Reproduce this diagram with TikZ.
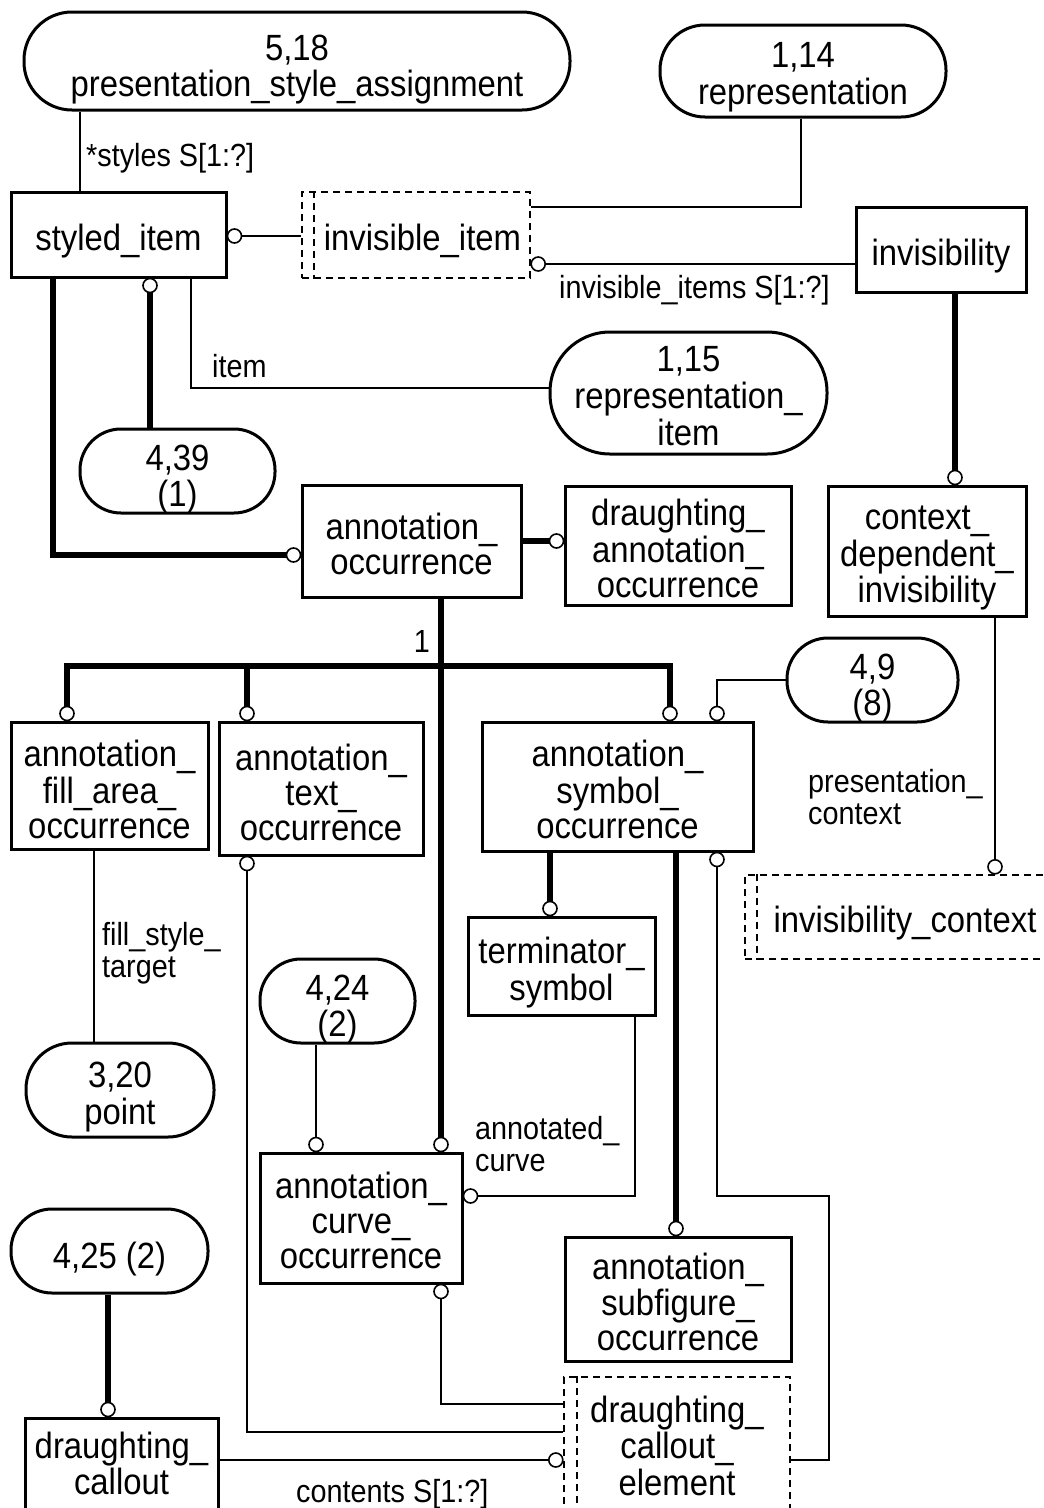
\documentclass[tikz,border=0pt]{standalone}
\usepackage{fontspec}
\setmainfont{Liberation Sans}[FakeStretch=0.9]
\usetikzlibrary{calc}
% stacked, centred lines, lowered by an optional amount without changing the box size
\newcommand\lns[2][8pt]{\raisebox{-#1}[\height][\depth]{\begin{tabular}{@{}c@{}}#2\end{tabular}}}
% left-aligned attribute label whose baseline is its first line
\newcommand\lbl[1]{\begin{tabular}[t]{@{}l@{}}#1\end{tabular}}
\newcommand\mainsz{\fontsize{36.5}{35}\selectfont}
\newcommand\labsz{\fontsize{32}{32}\selectfont}

\begin{document}
\begin{tikzpicture}[x=1pt,y=-1pt,
  box/.style={draw, line width=3pt, inner sep=0pt, font=\mainsz},
  dbox/.style={draw, line width=2.4pt, dash pattern=on 7pt off 5pt, inner sep=0pt, font=\mainsz},
  oval/.style={draw, line width=3pt, inner sep=0pt, font=\mainsz, rounded corners=#1},
  dline/.style={line width=2.4pt, dash pattern=on 7pt off 5pt},
  rel/.style={line width=2.3pt},
  isa/.style={line width=6.5pt},
  ring/.style={line width=1.6pt, draw=black, fill=white},
  lab/.style={inner sep=0pt, font=\labsz}]

\useasboundingbox (0,0) rectangle (1044,1508);
\fill[white] (0,0) rectangle (1044,1508);

% ---------- referenced schemas (ovals) ----------
\node[oval=48pt, minimum width=546pt, minimum height=98pt] (psa) at (297,61)
  {\lns[10pt]{5,18\\presentation\_style\_assignment}};
\node[oval=45pt, minimum width=286pt, minimum height=92pt] (rep) at (803,71)
  {\lns{1,14\\representation}};
\node[oval=60pt, minimum width=277pt, minimum height=122pt] (ri) at (688.5,393)
  {\lns{1,15\\representation\_\\item}};
\node[oval=41pt, minimum width=195pt, minimum height=84pt] (o439) at (177.5,471)
  {\lns[10pt]{4,39\\(1)}};
\node[oval=41pt, minimum width=171pt, minimum height=84pt] (o49) at (872.5,680)
  {\lns[10pt]{4,9\\(8)}};
\node[oval=41pt, minimum width=155pt, minimum height=84pt] (o424) at (337.5,1001)
  {\lns[10pt]{4,24\\(2)}};
\node[oval=46pt, minimum width=188pt, minimum height=94pt] (o320) at (120,1090)
  {\lns[8.5pt]{3,20\\point}};
\node[oval=41pt, minimum width=197pt, minimum height=84pt] (o425) at (109.5,1251)
  {\lns[10pt]{4,25 (2)}};

% ---------- entities ----------
\node[box, minimum width=215pt, minimum height=85pt] (si) at (118.5,234.5) {\lns{styled\_item}};
\node[dbox, minimum width=228pt, minimum height=86pt] (ii) at (416,235) {\hspace*{13pt}\lns{invisible\_item}};
\node[box, minimum width=170pt, minimum height=85pt] (inv) at (941,249.5) {\lns{invisibility}};
\node[box, minimum width=219pt, minimum height=112pt] (ao) at (411.5,541) {\lns{annotation\_\\occurrence}};
\node[box, minimum width=226pt, minimum height=119pt] (dao) at (678,545.5) {\lns{draughting\_\\annotation\_\\occurrence}};
\node[box, minimum width=198pt, minimum height=130pt] (cdi) at (927,551) {\lns{context\_\\dependent\_\\invisibility}};
\node[box, minimum width=197pt, minimum height=127pt] (afa) at (109.5,785.5) {\lns[9pt]{annotation\_\\fill\_area\_\\occurrence}};
\node[box, minimum width=204pt, minimum height=133pt] (ato) at (321,788.5) {\lns[9pt]{annotation\_\\text\_\\occurrence}};
\node[box, minimum width=271pt, minimum height=129pt] (aso) at (617.5,786.5) {\lns{annotation\_\\symbol\_\\occurrence}};
\node[dbox, minimum width=311pt, minimum height=84pt] (ic) at (900.5,917) {\hspace*{9pt}\lns{invisibility\_context}};
\node[box, minimum width=187pt, minimum height=98pt] (ts) at (561.5,966) {\lns{terminator\_\\symbol}};
\node[box, minimum width=202pt, minimum height=130pt] (aco) at (361,1218) {\lns{annotation\_\\curve\_\\occurrence}};
\node[box, minimum width=226pt, minimum height=124pt] (asub) at (678,1299) {\lns{annotation\_\\subfigure\_\\occurrence}};
\node[box, minimum width=193pt, minimum height=107pt] (dc) at (121.5,1471.5) {\lns[-3pt]{draughting\_\\callout}};
\node[dbox, minimum width=226pt, minimum height=148pt] (dce) at (677,1451) {\lns[0pt]{draughting\_\\callout\_\\element}};

% inner bars of the select types
\draw[dline] ([xshift=13pt]ii.north west) -- ([xshift=13pt]ii.south west);
\draw[dline] ([xshift=13pt]ic.north west) -- ([xshift=13pt]ic.south west);
\draw[dline] ([xshift=14pt]dce.north west) -- ([xshift=14pt]dce.south west);

% ---------- attribute relationships ----------
\draw[rel] (80,0 |- psa.south) -- (80,0 |- si.north);
\draw[rel] (si.east |- 0,236) -- (ii.west |- 0,236);
\draw[rel] (ii.east |- 0,207) -| (801,0 |- rep.south);
\draw[rel] (inv.west |- 0,264) -- (ii.east |- 0,264);
\draw[rel] (191,0 |- si.south) |- (ri.west |- 0,388);
\draw[rel] (o49.west) -| (717,0 |- aso.north);
\draw[rel] (995,0 |- cdi.south) -- (995,0 |- ic.north);
\draw[rel] (94,0 |- afa.south) -- (94,0 |- o320.north);
\draw[rel] (247,0 |- ato.south) |- (dce.west |- 0,1432);
\draw[rel] (717,0 |- aso.south) |- (829,1196) |- (dce.east |- 0,1460);
\draw[rel] (635,0 |- ts.south) |- (aco.east |- 0,1196);
\draw[rel] (316,0 |- o424.south) -- (316,0 |- aco.north);
\draw[rel] (441,0 |- aco.south) |- (dce.west |- 0,1404);
\draw[rel] (dc.east |- 0,1460) -- (dce.west |- 0,1460);

% ---------- subtype relationships ----------
\draw[isa] (53,0 |- si.south) |- (ao.west |- 0,555);
\draw[isa] (150,0 |- si.south) -- (150,0 |- o439.north);
\draw[isa] (955,0 |- inv.south) -- (955,0 |- cdi.north);
\draw[isa] (ao.east |- 0,541) -- (dao.west |- 0,541);
\draw[isa] (441,0 |- ao.south) -- (441,0 |- aco.north);
\draw[isa] (67,0 |- afa.north) |- (670,666) -- (670,0 |- aso.north);
\draw[isa] (247,666) -- (247,0 |- ato.north);
\draw[isa] (550,0 |- aso.south) -- (550,0 |- ts.north);
\draw[isa] (676,0 |- aso.south) -- (676,0 |- asub.north);
\draw[isa] (108,0 |- o425.south) -- (108,0 |- dc.north);

% ---------- relationship end circles ----------
\draw[ring] (si.east |- 0,236) ++(7,0) circle[radius=7pt];
\draw[ring] (ii.east |- 0,264) ++(7,0) circle[radius=7pt];
\draw[ring] (955,0 |- cdi.north) ++(0,-7) circle[radius=7pt];
\draw[ring] (ao.west |- 0,555) ++(-7,0) circle[radius=7pt];
\draw[ring] (150,0 |- si.south) ++(0,7) circle[radius=7pt];
\draw[ring] (dao.west |- 0,541) ++(-7,0) circle[radius=7pt];
\draw[ring] (67,0 |- afa.north) ++(0,-7) circle[radius=7pt];
\draw[ring] (247,0 |- ato.north) ++(0,-7) circle[radius=7pt];
\draw[ring] (670,0 |- aso.north) ++(0,-7) circle[radius=7pt];
\draw[ring] (717,0 |- aso.north) ++(0,-7) circle[radius=7pt];
\draw[ring] (995,0 |- ic.north) ++(0,-7) circle[radius=7pt];
\draw[ring] (247,0 |- ato.south) ++(0,7) circle[radius=7pt];
\draw[ring] (550,0 |- ts.north) ++(0,-7) circle[radius=7pt];
\draw[ring] (676,0 |- asub.north) ++(0,-7) circle[radius=7pt];
\draw[ring] (717,0 |- aso.south) ++(0,7) circle[radius=7pt];
\draw[ring] (316,0 |- aco.north) ++(0,-7) circle[radius=7pt];
\draw[ring] (441,0 |- aco.north) ++(0,-7) circle[radius=7pt];
\draw[ring] (aco.east |- 0,1196) ++(7,0) circle[radius=7pt];
\draw[ring] (441,0 |- aco.south) ++(0,7) circle[radius=7pt];
\draw[ring] (108,0 |- dc.north) ++(0,-7) circle[radius=7pt];
\draw[ring] (dce.west |- 0,1460) ++(-7,0) circle[radius=7pt];

% ---------- attribute names ----------
\node[lab, anchor=base west] (lstyles) at (86,166) {*styles S[1:?]};
\node[lab, anchor=base west] (linvis) at (559,298) {invisible\_items S[1:?]};
\node[lab, anchor=base west] (litem) at (212,377) {item};
\node[lab, anchor=base] (lone) at (422,652) {1};
\node[lab, anchor=base west] (lpctx) at (808,792) {\lbl{presentation\_\\context}};
\node[lab, anchor=base west] (lfill) at (102,945) {\lbl{fill\_style\_\\target}};
\node[lab, anchor=base west] (lcurve) at (475,1139) {\lbl{annotated\_\\curve}};
\node[lab, anchor=base west] (lcont) at (296,1502) {contents S[1:?]};
\end{tikzpicture}
\end{document}
